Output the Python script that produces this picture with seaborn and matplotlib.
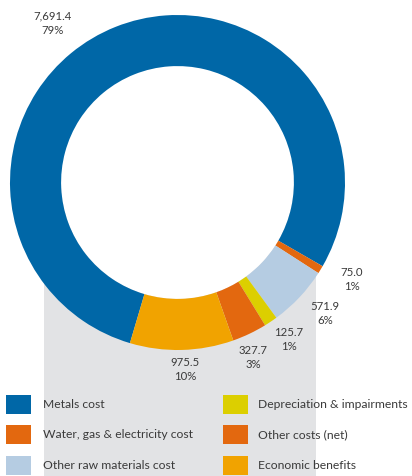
import matplotlib
matplotlib.use("Agg")
import matplotlib.pyplot as plt
from matplotlib.patches import Rectangle, Circle
import seaborn as sns

# ---- data ----
categories = ["Metals cost", "Water, gas & electricity cost", "Other raw materials cost",
              "Depreciation & impairments", "Other costs (net)", "Economic benefits"]
values = [7691.4, 75.0, 571.9, 125.7, 327.7, 975.5]
colors = ["#0067a7", "#e3680f", "#b5cce2", "#dccf00", "#e3680f", "#f1a300"]

# label anchor positions (pixels, layout only)
label_xy = [(53, 16), (352, 272), (325, 306), (289, 332), (253, 350), (185, 362)]

sns.set_theme(style="white")
plt.rcParams['font.family'] = ['Lato', 'DejaVu Sans']
text_color = "#3a3a3a"

W, H = 412, 476
fig = plt.figure(figsize=(W / 100, H / 100), dpi=100)
fig.patch.set_facecolor("white")

# background axes in pixel coordinates
bg = fig.add_axes([0, 0, 1, 1])
bg.set_xlim(0, W)
bg.set_ylim(H, 0)
bg.axis("off")
bg.add_patch(Rectangle((44, 183), 272, H - 183, facecolor="#e2e3e5", edgecolor="none", zorder=0))

# donut
cx, cy, R = 177.5, 182.5, 167.5
ax = fig.add_axes([(cx - R) / W, (H - cy - R) / H, 2 * R / W, 2 * R / H])
pal = sns.color_palette(colors)
ax.pie(values, colors=pal, startangle=253.5, counterclock=False, radius=1,
       wedgeprops=dict(width=0.305, linewidth=0))
ax.add_patch(Circle((0, 0), 0.695, facecolor="white", edgecolor="none", zorder=0.5))
ax.set_xlim(-1, 1)
ax.set_ylim(-1, 1)
ax.set_aspect("equal")
ax.axis("off")
ax.patch.set_alpha(0)

total = sum(values)
for v, (x, y) in zip(values, label_xy):
    bg.text(x, y, f"{v:,.1f}", ha="center", va="center", fontsize=8.2, color=text_color)
    bg.text(x, y + 15, f"{round(v / total * 100)}%", ha="center", va="center",
            fontsize=8.2, color=text_color)

# legend
rows_y = [395, 425, 456]
col_x = [(6, 43), (223, 258)]
for i, (name, c) in enumerate(zip(categories, colors)):
    col, row = divmod(i, 3)
    sx, tx = col_x[col]
    y = rows_y[row]
    bg.add_patch(Rectangle((sx, y), 25, 19, facecolor=c, edgecolor="none"))
    bg.text(tx, y + 9.5, name, ha="left", va="center", fontsize=8.75, color=text_color)

fig.savefig("out.png", dpi=100)
